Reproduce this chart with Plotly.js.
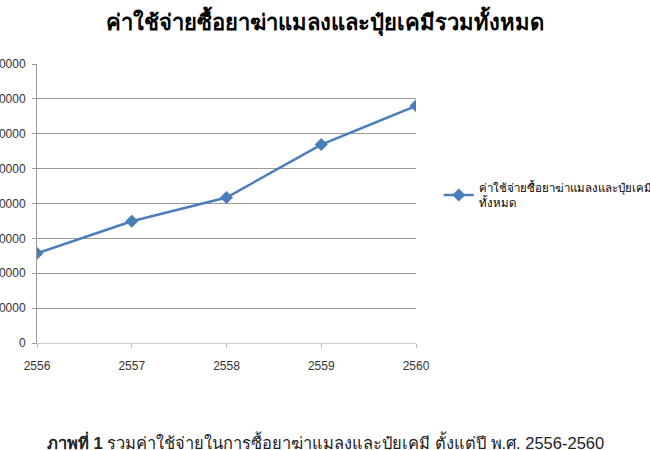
<!DOCTYPE html>
<html>
<head>
<meta charset="utf-8">
<script src="https://cdn.plot.ly/plotly-3.0.1.min.js"></script>
<style>html,body{margin:0;padding:0;background:#fff;}#chart{width:650px;height:450px;}</style>
</head>
<body>
<div id="chart"></div>
<script>
const years = [2556, 2557, 2558, 2559, 2560];
const totalCost = [257000, 349000, 417000, 569000, 680000];
const yTicks = [0, 100000, 200000, 300000, 400000, 500000, 600000, 700000, 800000];
const seriesName = "ค่าใช้จ่ายซื้อยาฆ่าแมลงและปุ๋ยเคมีรวม<br>ทั้งหมด";
const chartTitle = "<b>ค่าใช้จ่ายซื้อยาฆ่าแมลงและปุ๋ยเคมีรวมทั้งหมด</b>";
const caption = "<b>ภาพที่ 1</b> รวมค่าใช้จ่ายในการซื้อยาฆ่าแมลงและปุ๋ยเคมี ตั้งแต่ปี พ.ศ. 2556-2560";

const trace = {
  x: years, y: totalCost, name: seriesName, type: 'scatter', mode: 'lines+markers',
  line: {color: '#4A7EBB', width: 2.5},
  marker: {symbol: 'diamond', size: 10, color: '#4A7EBB'}
};
const layout = {
  width: 650, height: 450,
  margin: {l: 37, r: 234, t: 64, b: 107, autoexpand: false},
  paper_bgcolor: '#fff', plot_bgcolor: '#fff',
  font: {family: 'Arial, "Liberation Sans", sans-serif', color: '#333'},
  title: {text: chartTitle, x: 0.5, xanchor: 'center', y: 0.95, yanchor: 'middle',
          font: {size: 22, color: '#000'}},
  xaxis: {range: [2556, 2560], tickvals: years, ticktext: years.map(String),
          showgrid: false, zeroline: false, showline: true, linecolor: '#ccc',
          ticks: 'outside', ticklen: 4, tickcolor: '#bbb', ticklabelstandoff: 8,
          tickfont: {size: 12, color: '#333'}},
  yaxis: {range: [0, 800000], tickvals: yTicks, ticktext: yTicks.map(String),
          showgrid: true, gridcolor: '#999', gridwidth: 1, zeroline: false,
          showline: true, linecolor: '#999', ticks: 'outside', ticklen: 4, tickcolor: '#999',
          ticklabelstandoff: 4, tickfont: {size: 12, color: '#333'}},
  showlegend: true,
  legend: {x: 1.06, xanchor: 'left', y: 0.53, yanchor: 'middle', font: {size: 11.5, color: '#000'},
           itemwidth: 30, bgcolor: 'rgba(0,0,0,0)'},
  annotations: [{text: caption, xref: 'paper', yref: 'paper', x: 0.76, xanchor: 'center',
                 y: -0.355, yanchor: 'middle', showarrow: false, font: {size: 16.5, color: '#222'}}]
};
Plotly.newPlot('chart', [trace], layout, {displayModeBar: false, staticPlot: true});
</script>
</body>
</html>
